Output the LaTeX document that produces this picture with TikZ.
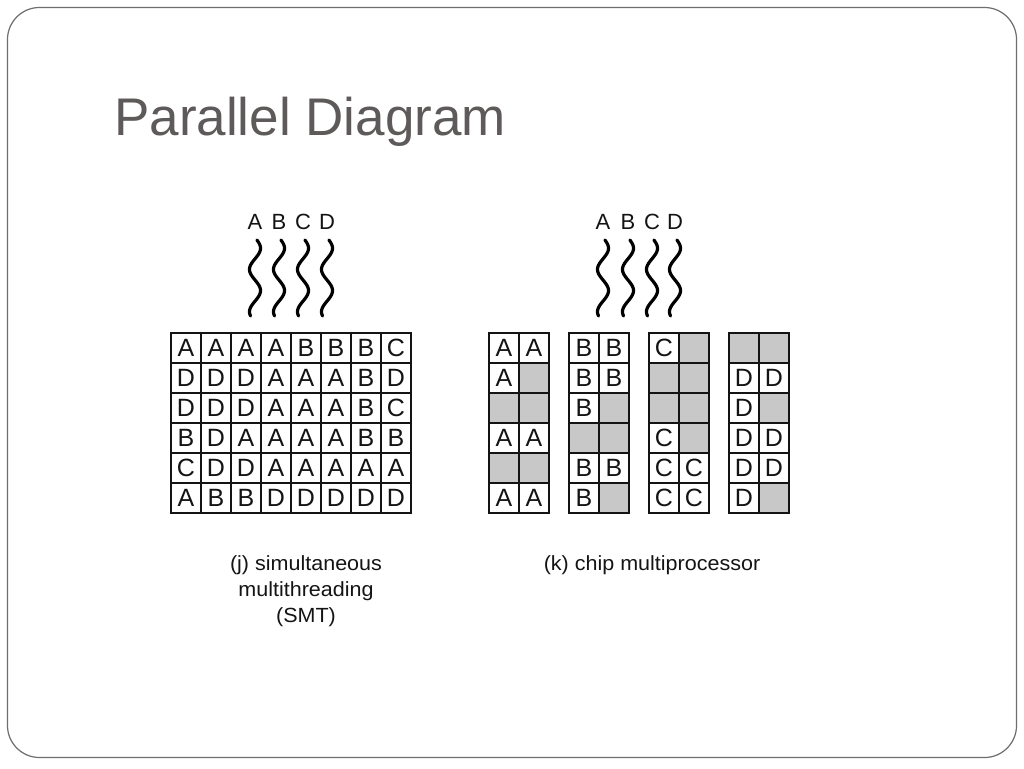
\documentclass[tikz,border=0pt]{standalone}
\usepackage{fontspec}
\setmainfont{Liberation Sans}
\usepackage{graphicx}
\definecolor{framegrey}{HTML}{6E6E6E}
\definecolor{titlegrey}{HTML}{5E5A5A}
\definecolor{cellgrey}{HTML}{C8C8C8}
\definecolor{ink}{HTML}{141414}
\tikzset{
  frame/.style={draw=framegrey, line width=1.2pt, rounded corners=32pt},
  cell/.style={draw=ink, line width=1.7pt, minimum width=30pt, minimum height=30pt, inner sep=0pt, outer sep=0pt, text=ink, font=\fontsize{25}{25}\selectfont},
  cw/.style={fill=white},
  cg/.style={fill=cellgrey},
  head/.style={text=ink, font=\fontsize{22}{22}\selectfont, inner sep=0pt},
  wave/.style={draw=black, line width=3.2pt, line cap=round},
  caption/.style={text=ink, font=\fontsize{20.5}{26}\selectfont, inner sep=0pt},
}
\def\grpa{A/cw,A/cw, A/cw,/cg, /cg,/cg, A/cw,A/cw, /cg,/cg, A/cw,A/cw}
\def\grpb{B/cw,B/cw, B/cw,B/cw, B/cw,/cg, /cg,/cg, B/cw,B/cw, B/cw,/cg}
\def\grpc{C/cw,/cg, /cg,/cg, /cg,/cg, C/cw,/cg, C/cw,C/cw, C/cw,C/cw}
\def\grpd{/cg,/cg, D/cw,D/cw, D/cw,/cg, D/cw,D/cw, D/cw,D/cw, D/cw,/cg}
\begin{document}
\begin{tikzpicture}[x=1pt, y=-1pt]
\useasboundingbox (0,0) rectangle (1024,768);
\fill[white] (0,0) rectangle (1024,768);
\draw[frame] (7.5,7.5) rectangle (1016.5,757.5);
\node[anchor=base west, text=titlegrey, inner sep=0pt, font=\fontsize{53}{60}\selectfont] (title) at (114,135) {Parallel Diagram};

% left: SMT grid
\foreach \row [count=\r] in {{A,A,A,A,B,B,B,C},{D,D,D,A,A,A,B,D},{D,D,D,A,A,A,B,C},{B,D,A,A,A,A,B,B},{C,D,D,A,A,A,A,A},{A,B,B,D,D,D,D,D}}{
  \foreach \ch [count=\c] in \row {
    \node[cell, cw] (s-\r-\c) at ({156+30*\c}, {318+30*\r}) {\ch};
  }
}
% left heads and waves
\foreach \t/\xx in {A/255, B/279, C/303, D/327}{
  \node[head] (lh\t) at (\xx, 222) {\t};
  \draw[wave] plot[domain=20:666, samples=90, variable=\a] ({\xx+5.5*sin(\a)}, {240+(\a-20)/8.5});
}

% right: chip multiprocessor groups
\foreach \gn/\gx in {a/489, b/569, c/649, d/729}{
  \expandafter\let\expandafter\grp\csname grp\gn\endcsname
  \foreach \t/\f [count=\i from 0] in \grp {
    \pgfmathtruncatemacro\rr{int(\i/2)}
    \pgfmathtruncatemacro\cc{mod(\i,2)}
    \node[cell, \f] (k-\gn-\rr-\cc) at ({\gx+15+30*\cc}, {348+30*\rr}) {\t};
  }
}
\foreach \t/\xx in {A/603, B/628, C/652, D/675}{
  \node[head] (rh\t) at (\xx, 222) {\t};
  \draw[wave] plot[domain=20:666, samples=90, variable=\a] ({\xx+5.5*sin(\a)}, {240+(\a-20)/8.5});
}

% captions
\node[caption] (capj) at (306, 591) {\scalebox{1.05}[1]{\begin{tabular}{@{}c@{}}(j) simultaneous\\ multithreading\\ (SMT)\end{tabular}}};
\node[caption] (capk) at (652, 565) {\scalebox{1.05}[1]{(k) chip multiprocessor}};
\end{tikzpicture}
\end{document}
